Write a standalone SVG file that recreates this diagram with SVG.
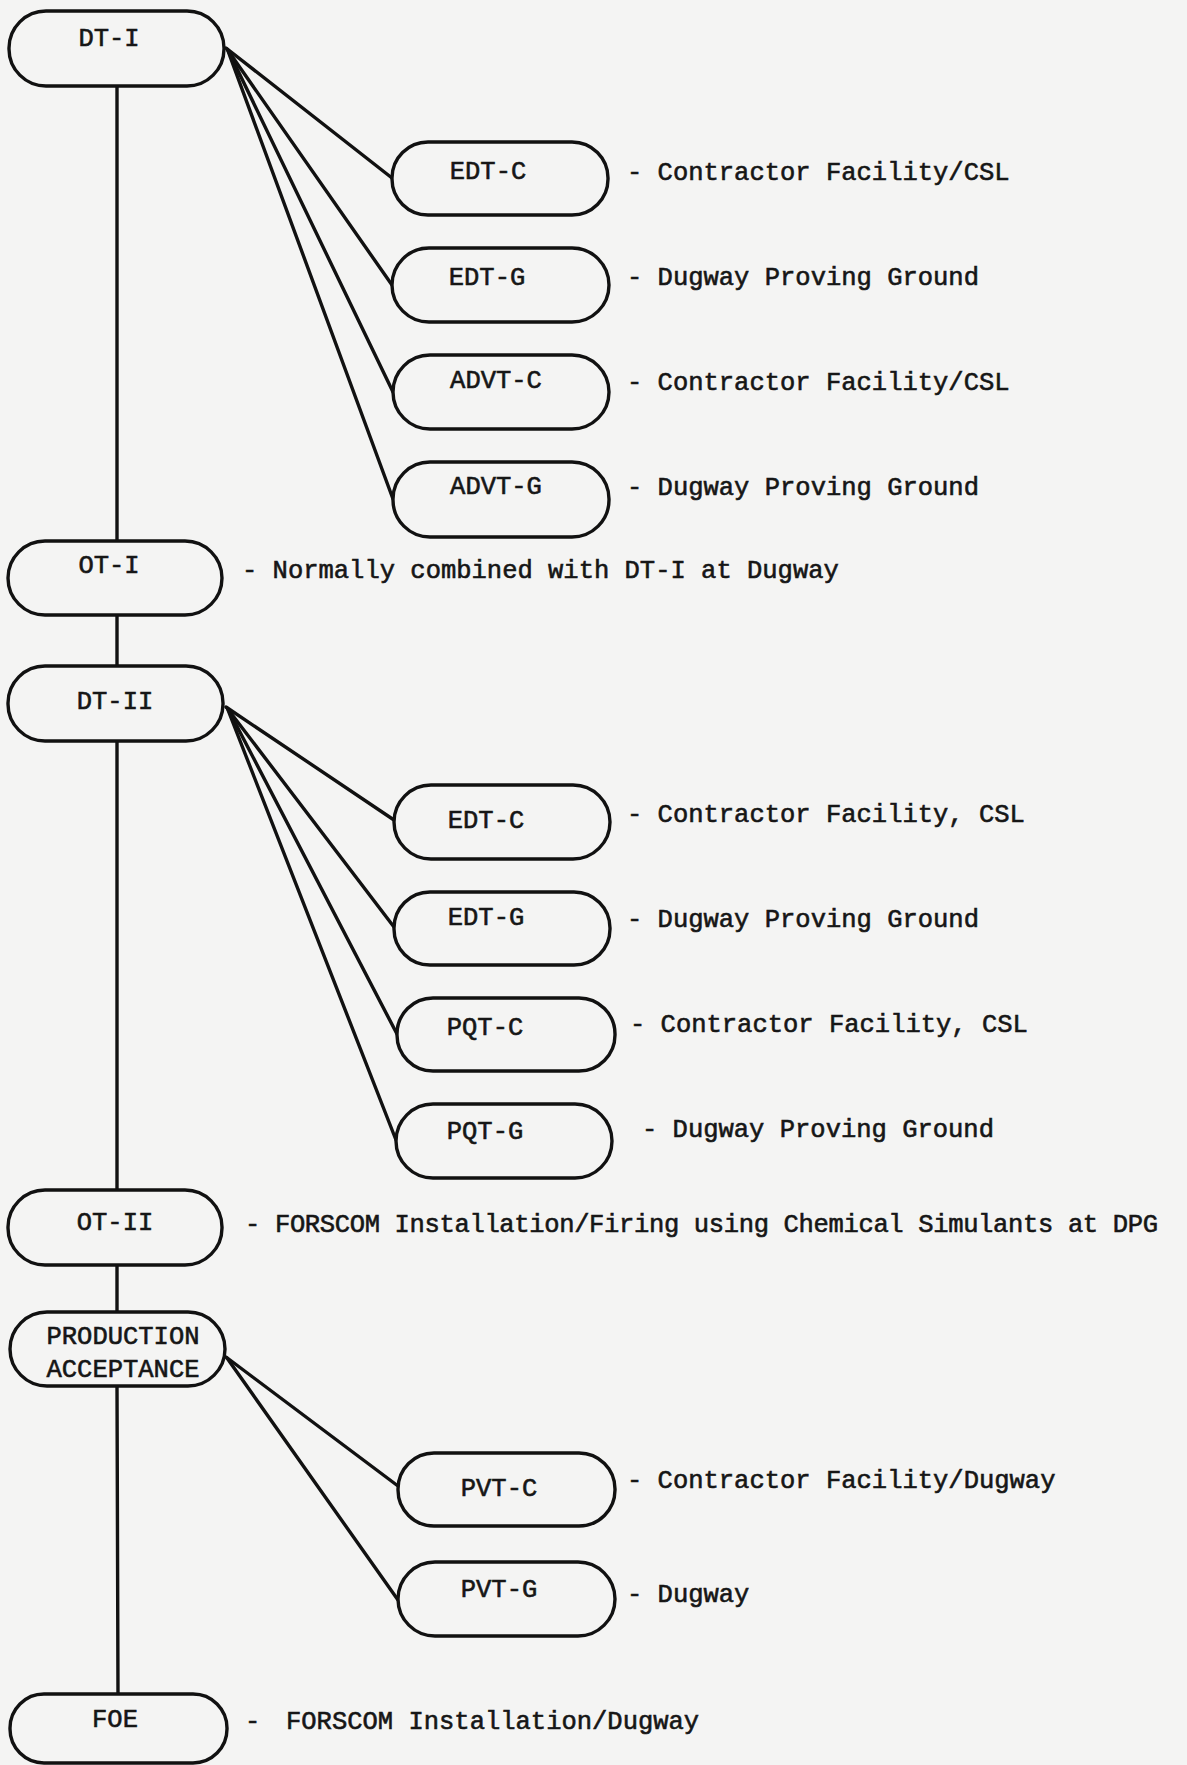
<svg xmlns="http://www.w3.org/2000/svg" width="1187" height="1765" viewBox="0 0 1187 1765">
<style>
.bg{fill:#f4f4f3}
.node rect{fill:#f4f4f3;stroke:#111;stroke-width:3.4}
text{font-family:"Liberation Mono","Courier New",monospace;font-size:25.5px;fill:#161616;stroke:#161616;stroke-width:0.6}
.c{text-anchor:middle}
.conn line{stroke:#111;stroke-width:3.4;stroke-linecap:round}
</style>
<rect class="bg" x="0" y="0" width="1187" height="1765"/>
<g id="connectors" class="conn">
<line x1="117" y1="86" x2="117" y2="541"/>
<line x1="117" y1="615" x2="117" y2="666"/>
<line x1="117" y1="741" x2="117" y2="1190"/>
<line x1="117" y1="1265" x2="117" y2="1312"/>
<line x1="117" y1="1386" x2="118" y2="1694"/>
<line x1="226" y1="48" x2="392" y2="178"/>
<line x1="227" y1="49" x2="392" y2="285"/>
<line x1="228" y1="50" x2="393" y2="392"/>
<line x1="228" y1="51" x2="393" y2="499"/>
<line x1="226" y1="707" x2="394" y2="820"/>
<line x1="227" y1="708" x2="394" y2="927"/>
<line x1="228" y1="709" x2="397" y2="1034"/>
<line x1="228" y1="710" x2="396" y2="1140"/>
<line x1="226" y1="1357" x2="398" y2="1486"/>
<line x1="227" y1="1358" x2="398" y2="1600"/>
</g>
<g id="n-dt1" class="node"><rect x="9" y="11" width="215" height="75" rx="37" ry="37"/><text class="c" x="109" y="46">DT-I</text></g>
<g id="n-edtc1" class="node"><rect x="392" y="142" width="216" height="73" rx="36" ry="36"/><text class="c" x="488" y="179">EDT-C</text></g>
<g id="n-edtg1" class="node"><rect x="392" y="248" width="217" height="74" rx="37" ry="37"/><text class="c" x="487" y="285">EDT-G</text></g>
<g id="n-advtc" class="node"><rect x="393" y="355" width="216" height="74" rx="37" ry="37"/><text class="c" x="496" y="388">ADVT-C</text></g>
<g id="n-advtg" class="node"><rect x="393" y="462" width="216" height="75" rx="37" ry="37"/><text class="c" x="496" y="494">ADVT-G</text></g>
<g id="n-ot1" class="node"><rect x="8" y="541" width="214" height="74" rx="37" ry="37"/><text class="c" x="109" y="573">OT-I</text></g>
<g id="n-dt2" class="node"><rect x="8" y="666" width="215" height="75" rx="37" ry="37"/><text class="c" x="115" y="709">DT-II</text></g>
<g id="n-edtc2" class="node"><rect x="394" y="785" width="216" height="74" rx="37" ry="37"/><text class="c" x="486" y="828">EDT-C</text></g>
<g id="n-edtg2" class="node"><rect x="394" y="892" width="216" height="73" rx="36" ry="36"/><text class="c" x="486" y="925">EDT-G</text></g>
<g id="n-pqtc" class="node"><rect x="397" y="998" width="218" height="73" rx="36" ry="36"/><text class="c" x="485" y="1035">PQT-C</text></g>
<g id="n-pqtg" class="node"><rect x="396" y="1104" width="216" height="74" rx="37" ry="37"/><text class="c" x="485" y="1139">PQT-G</text></g>
<g id="n-ot2" class="node"><rect x="8" y="1190" width="214" height="75" rx="37" ry="37"/><text class="c" x="115" y="1230">OT-II</text></g>
<g id="n-prod" class="node"><rect x="10" y="1312" width="215" height="74" rx="37" ry="37"/><text class="c" x="123" y="1344">PRODUCTION</text><text class="c" x="123" y="1377">ACCEPTANCE</text></g>
<g id="n-pvtc" class="node"><rect x="398" y="1453" width="217" height="73" rx="36" ry="36"/><text class="c" x="499" y="1496">PVT-C</text></g>
<g id="n-pvtg" class="node"><rect x="398" y="1562" width="217" height="74" rx="37" ry="37"/><text class="c" x="499" y="1597">PVT-G</text></g>
<g id="n-foe" class="node"><rect x="10" y="1694" width="217" height="69" rx="34" ry="34"/><text class="c" x="115" y="1727">FOE</text></g>
<g id="labels">
<text x="627" y="180">- Contractor Facility/CSL</text>
<text x="627" y="285">- Dugway Proving Ground</text>
<text x="627" y="390">- Contractor Facility/CSL</text>
<text x="627" y="495">- Dugway Proving Ground</text>
<text x="242" y="578">- Normally combined with DT-I at Dugway</text>
<text x="627" y="822">- Contractor Facility, CSL</text>
<text x="627" y="927">- Dugway Proving Ground</text>
<text x="630" y="1032">- Contractor Facility, CSL</text>
<text x="642" y="1137">- Dugway Proving Ground</text>
<text x="245" y="1232" textLength="913" lengthAdjust="spacing">- FORSCOM Installation/Firing using Chemical Simulants at DPG</text>
<text x="627" y="1488">- Contractor Facility/Dugway</text>
<text x="627" y="1602">- Dugway</text>
<text y="1729"><tspan x="245">-</tspan><tspan x="286">FORSCOM Installation/Dugway</tspan></text>
</g>
</svg>
